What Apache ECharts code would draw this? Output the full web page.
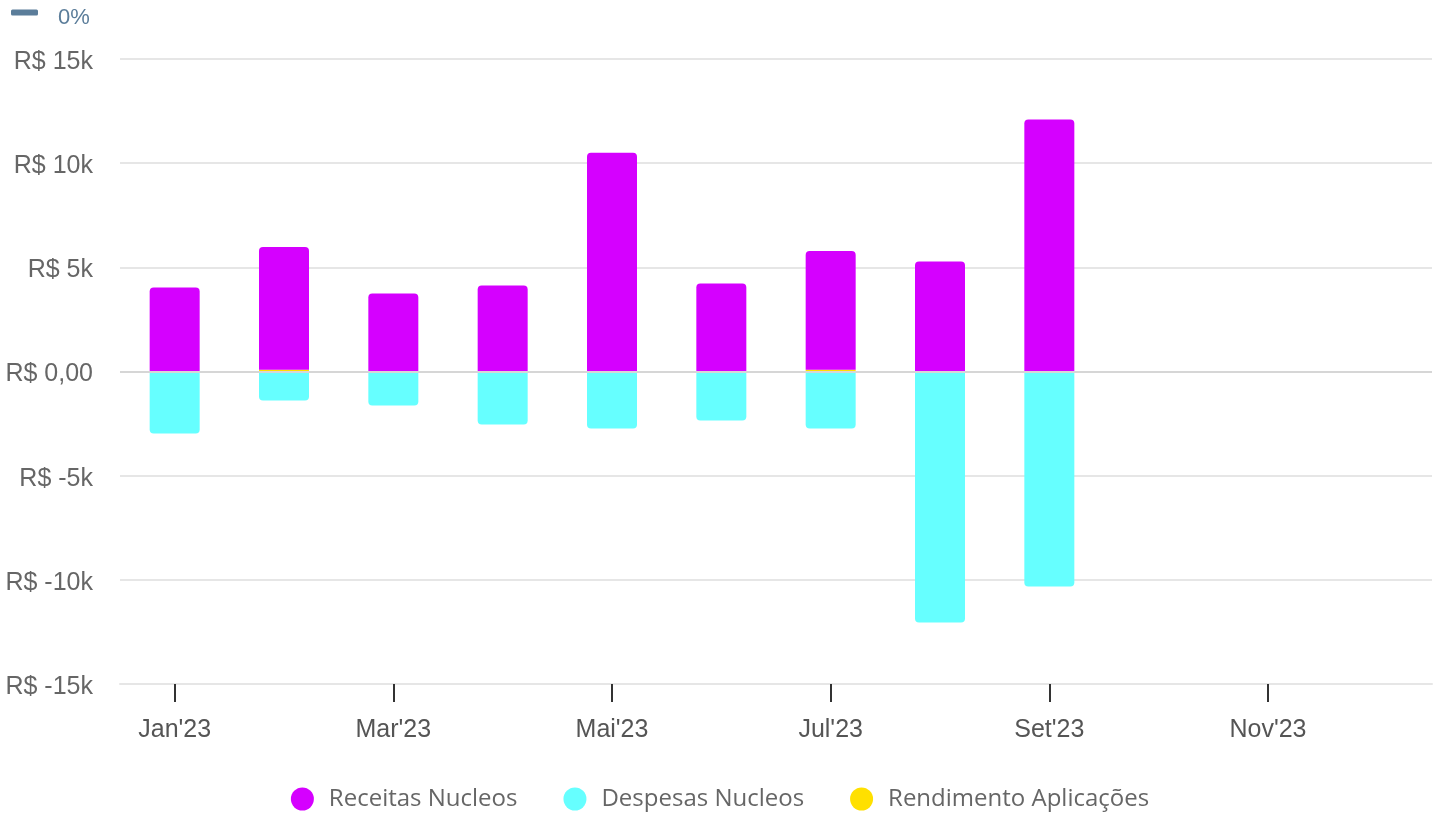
<!DOCTYPE html>
<html>
<head>
<meta charset="utf-8">
<script src="https://cdn.jsdelivr.net/npm/echarts@6/dist/echarts.min.js"></script>
<style>
html, body { margin: 0; padding: 0; background: #fff; }
#chart { width: 1440px; height: 818px; }
</style>
</head>
<body>
<div id="chart"></div>
<script>
var meses = ["Jan'23", "Fev'23", "Mar'23", "Abr'23", "Mai'23", "Jun'23", "Jul'23", "Ago'23", "Set'23", "Out'23", "Nov'23", "Dez'23"];
var receitas = [4030, 5900, 3740, 4130, 10500, 4220, 5700, 5280, 12100, null, null, null];
var despesas = [-2980, -1390, -1630, -2540, -2740, -2350, -2740, -12050, -10320, null, null, null];
var rendimento = [0, 80, 0, 0, 0, 0, 80, 0, 0, null, null, null];
var yTicks = { min: -15000, max: 15000, step: 5000 };

var labelFont = 'Liberation Sans, Arial, sans-serif';

var option = {
	animation: false,
	legend: [{
		left: 6,
		top: 2,
		data: ['0%'],
		icon: 'roundRect',
		itemWidth: 27,
		itemHeight: 6,
		formatter: '{t|{name}}',
		textStyle: {
			color: '#5b7d9a', fontSize: 22, fontFamily: labelFont,
			rich: { t: { color: '#5b7d9a', fontSize: 22, fontFamily: labelFont, padding: [11, 0, 0, 15] } }
		}
	}, {
		top: 782,
		left: 'center',
		data: ['Receitas Nucleos', 'Despesas Nucleos', 'Rendimento Aplicações'],
		icon: 'circle',
		itemWidth: 23,
		itemHeight: 23,
		itemGap: 46,
		textStyle: { color: '#666', fontSize: 24, fontFamily: 'Open Sans', padding: [0, 0, 0, 10] }
	}],
	grid: { left: 120, right: 8, top: 59, bottom: 134 },
	xAxis: {
		type: 'category',
		data: meses,
		axisLine: { show: true, onZero: false, lineStyle: { color: '#e6e6e6', width: 2 } },
		axisTick: { show: true, alignWithLabel: true, interval: 1, length: 18, lineStyle: { color: '#333', width: 2 } },
		axisLabel: { interval: 1, margin: 34, fontSize: 25, color: '#555', fontFamily: labelFont }
	},
	yAxis: {
		type: 'value',
		min: yTicks.min,
		max: yTicks.max,
		interval: yTicks.step,
		axisLine: { show: false },
		axisTick: { show: false },
		splitLine: { lineStyle: { color: '#e6e6e6', width: 2 } },
		axisLabel: {
			margin: 27,
			fontSize: 25,
			color: '#666',
			fontFamily: labelFont,
			formatter: function(v) {
				var s = v === 0 ? 'R$ 0,00' : 'R$ ' + (v / 1000) + 'k';
				return '{v|' + s + '}';
			},
			rich: { v: { fontSize: 25, color: '#666', fontFamily: labelFont, padding: [6, 0, 0, 0] } }
		}
	},
	series: [
		{
			name: '0%',
			type: 'line',
			data: [],
			itemStyle: { color: '#5b7d9a' }
		},
		{
			name: 'Rendimento Aplicações',
			type: 'bar',
			stack: 'total',
			barWidth: 50,
			itemStyle: { color: '#ffe000' },
			data: rendimento
		},
		{
			name: 'Receitas Nucleos',
			type: 'bar',
			stack: 'total',
			barWidth: 50,
			itemStyle: { color: '#d500ff', borderRadius: [4, 4, 0, 0] },
			data: receitas
		},
		{
			name: 'Despesas Nucleos',
			type: 'bar',
			stack: 'total',
			barWidth: 50,
			itemStyle: { color: '#66ffff', borderRadius: [0, 0, 4, 4] },
			data: despesas,
			markLine: {
				silent: true,
				symbol: 'none',
				label: { show: false },
				lineStyle: { color: '#d6d6d6', width: 2, type: 'solid' },
				data: [{ yAxis: 0 }]
			}
		}
	]
};

var myChart = echarts.init(document.getElementById('chart'));
myChart.setOption(option);
</script>
</body>
</html>
